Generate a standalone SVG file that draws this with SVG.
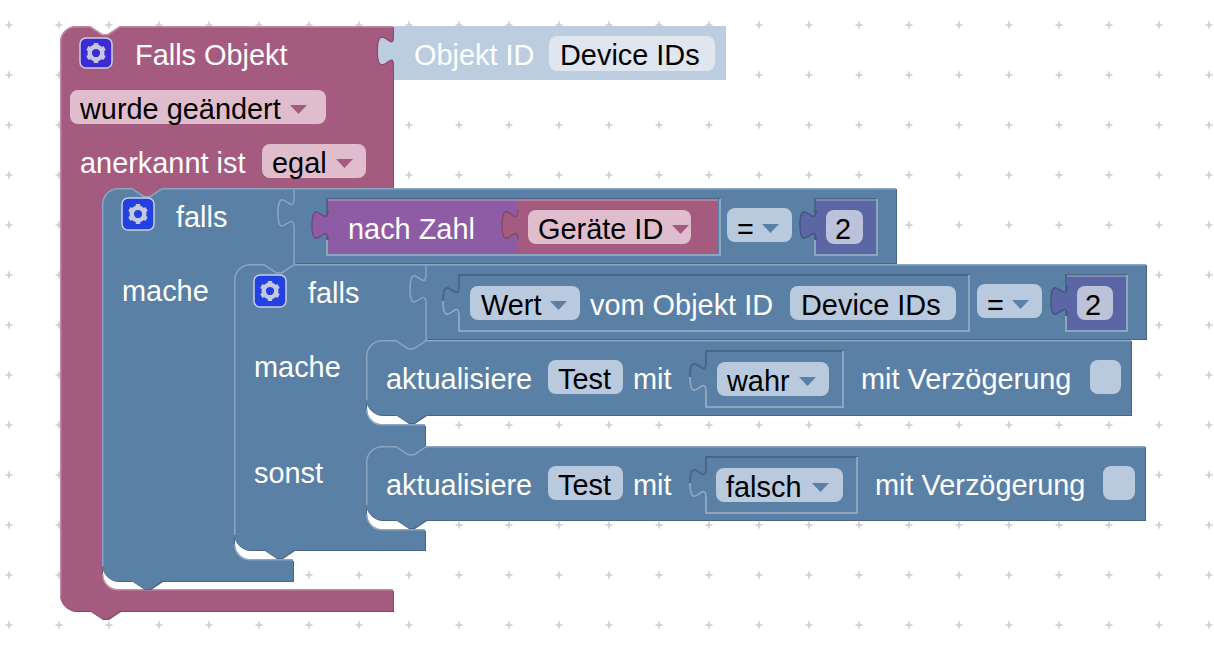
<svg xmlns="http://www.w3.org/2000/svg" width="1214" height="668" viewBox="0 0 1214 668">
<style>
text{font-family:"Liberation Sans",Arial,sans-serif;font-size:28.9px;fill:#fff;transform:translateY(.5px)}
text.k{fill:#000}
.pur{--f:#a55b80;--d:#844966;--l:#c08ca6}
.blu{--f:#5b80a5;--d:#496684;--l:#8ca6c0}
.vio{--f:#5b67a5;--d:#495284;--l:#8c95c0}
.mag{--f:#8e5ba5;--d:#724984;--l:#b08cc0}
.sha{--f:#bccde0;--d:#a5b8cd;--l:#d2dfec}
.d{fill:var(--d)}
.f{fill:var(--f)}
.l{fill:none;stroke:var(--l);stroke-width:1.5}
.t{fill:none;stroke:var(--d);stroke-width:1.5}
.hd{fill:none;stroke:var(--d);stroke-width:2}
.hl{fill:none;stroke:var(--l);stroke-width:2}
.fb{fill:#b9cade}
.fp{fill:#dfbdcd}
.fv{fill:#bdc2db}
.fs{fill:#dfe6ef}
.ab{fill:#5b80a5}
.ap{fill:#a55b80}
.ic{stroke:#c9cfe4;stroke-width:1.5}
</style>
<defs>
<pattern id="grid" x="0" y="0" width="50" height="50" patternUnits="userSpaceOnUse">
<path d="M5.5,25H12.5M9,21.500V28.500" stroke="#ccc" stroke-width="1.6" fill="none"/>
</pattern>
<g id="gear" fill="none" stroke="#c3c9e0">
<circle r="6.300" stroke-width="4.400"/>
<path d="M0,-10V10M-8.660,-5L8.660,5M-8.660,5L8.660,-5" stroke-width="4.400" stroke-dasharray="3.500 13"/>
</g>
<path id="p1" d="M60,42a16,16 0 0 1 16,-16H90l12,8 6,0 12,-8H393V188H162l-12,8 -6,0 -12,-8H118a16,16 0 0 0 -16,16V574a16,16 0 0 0 16,16H393V611H120l-12,8 -6,0 -12,-8H76a16,16 0 0 1 -16,-16z"/>
<path id="p2" d="M394,26H726V80H394V66c0,-20 -16,16 -16,-15s16,5 16,-15z"/>
<path id="p3" d="M102,204a16,16 0 0 1 16,-16H132l12,8 6,0 12,-8H293V264H294l-12,8 -6,0 -12,-8H250a16,16 0 0 0 -16,16V544a16,16 0 0 0 16,16H293V581H162l-12,8 -6,0 -12,-8H118a16,16 0 0 1 -16,-16z"/>
<path id="p4" d="M294,188H896V263H294V228c0,-20 -16,16 -16,-15s16,5 16,-15z"/>
<path id="p5" d="M328,200H518V254H328V240c0,-20 -16,16 -16,-15s16,5 16,-15z"/>
<path id="p6" d="M518,200H718V254H518V240c0,-20 -16,16 -16,-15s16,5 16,-15z"/>
<path id="p7" d="M816,200H876V254H816V240c0,-20 -16,16 -16,-15s16,5 16,-15z"/>
<path id="p8" d="M234,280a16,16 0 0 1 16,-16H264l12,8 6,0 12,-8H425V340H426l-12,8 -6,0 -12,-8H382a16,16 0 0 0 -16,16V409a16,16 0 0 0 16,16H425V446H426l-12,8 -6,0 -12,-8H382a16,16 0 0 0 -16,16V514a16,16 0 0 0 16,16H425V550H294l-12,8 -6,0 -12,-8H250a16,16 0 0 1 -16,-16z"/>
<path id="p9" d="M426,264H1146V339H426V304c0,-20 -16,16 -16,-15s16,5 16,-15z"/>
<path id="p10" d="M1067,276H1126V330H1067V316c0,-20 -16,16 -16,-15s16,5 16,-15z"/>
<path id="p11" d="M366,356a16,16 0 0 1 16,-16H396l12,8 6,0 12,-8H1131V415H426l-12,8 -6,0 -12,-8H382a16,16 0 0 1 -16,-16z"/>
<path id="p12" d="M366,462a16,16 0 0 1 16,-16H396l12,8 6,0 12,-8H1145V520H426l-12,8 -6,0 -12,-8H382a16,16 0 0 1 -16,-16z"/>
</defs>
<rect width="1214" height="668" fill="#fff"/>
<rect width="1214" height="668" fill="url(#grid)"/>

<g id="on-change" class="pur">
<use href="#p1" class="d" x="1" y="1"/><use href="#p1" class="f"/>
<path class="l" d="M60.700,596V42a15.300,15.300 0 0 1 15.300,-15.300H90l12,8 6,0 12,-8H393M102.700,574a15.300,15.300 0 0 0 15.300,15.800H393"/>
<rect x="80" y="38" width="32" height="30" rx="6" fill="#3f2bd4" class="ic"/><use href="#gear" x="96" y="53"/>
<text x="135" y="64">Falls Objekt</text>
<rect x="70" y="90" width="256" height="34" rx="8" class="fp"/>
<text x="80" y="118" class="k">wurde geändert</text><path class="ap" d="M290,105h17l-8.500,9z"/>
<text x="80" y="172">anerkannt ist</text>
<rect x="262" y="144" width="104" height="34" rx="8" class="fp"/>
<text x="272" y="172" class="k">egal</text><path class="ap" d="M336,159h17l-8.500,9z"/>
</g>

<g id="object-id" class="sha">
<path d="M394,36c0,20 -16,-16 -16,15s16,-5 16,15" fill="none" stroke="#844966" stroke-width="2.500"/>
<use href="#p2" class="f"/>
<text x="414" y="64">Objekt ID</text>
<rect x="549" y="36" width="166" height="35" rx="8" class="fs"/>
<text x="560" y="64" class="k">Device IDs</text>
</g>

<g id="if-outer" class="blu">
<use href="#p3" class="d" x="1" y="1"/><use href="#p3" class="f"/>
<path class="l" d="M102.700,566V204a15.300,15.300 0 0 1 15.300,-15.300H132l12,8 6,0 12,-8H293M234.700,544a15.300,15.300 0 0 0 15.300,15.800H293"/>
<rect x="122" y="198" width="32" height="32" rx="6" fill="#2340e0" class="ic"/><use href="#gear" x="138" y="214"/>
<text x="176" y="226">falls</text>
<text x="122" y="300">mache</text>
</g>

<g id="compare-outer" class="blu">
<use href="#p4" class="d" x="1" y="1"/><use href="#p4" class="f"/>
<path class="l" d="M294,264V228c0,-20 -16,16 -16,-15s16,5 16,-15V188.700H896"/>
<path class="hd" d="M327,240V199H720"/>
<path class="hl" d="M720,199V255H327V240"/>
<path class="hd" d="M815,240V199H877"/>
<path class="hl" d="M877,199V255H815V240"/>
<rect x="727" y="208" width="65" height="34" rx="8" class="fb"/>
<text x="737" y="238" class="k">=</text><path class="ab" d="M762,224h17l-8.500,9z"/>
</g>

<g id="to-number" class="mag">
<use href="#p5" class="f"/>
<path class="l" d="M328,200H518"/>
<path class="t" d="M328,240c0,-20 -16,16 -16,-15s16,5 16,-15"/>
<text x="348" y="238">nach Zahl</text>
</g>

<g id="device-id" class="pur">
<use href="#p6" class="f"/>
<path class="l" d="M518,200H718"/>
<path class="t" d="M518,240c0,-20 -16,16 -16,-15s16,5 16,-15"/>
<rect x="528" y="210" width="163" height="34" rx="8" class="fp"/>
<text x="538" y="238" class="k">Geräte ID</text><path class="ap" d="M672,225h17l-8.500,9z"/>
</g>

<g id="number-outer" class="vio">
<use href="#p7" class="f"/>
<path class="l" d="M816,200H876"/>
<path class="t" d="M816,240c0,-20 -16,16 -16,-15s16,5 16,-15"/>
<rect x="826" y="210" width="37" height="34" rx="8" class="fv"/>
<text x="835" y="238" class="k">2</text>
</g>

<g id="if-inner" class="blu">
<use href="#p8" class="d" x="1" y="1"/><use href="#p8" class="f"/>
<path class="l" d="M234.700,535V280a15.300,15.300 0 0 1 15.300,-15.300H264l12,8 6,0 12,-8H425M366.700,409a15.300,15.300 0 0 0 15.300,15.800H425M366.700,514a15.300,15.300 0 0 0 15.300,15.800H425"/>
<rect x="254" y="275" width="32" height="32" rx="6" fill="#2340e0" class="ic"/><use href="#gear" x="270" y="291"/>
<text x="308" y="302">falls</text>
<text x="254" y="376">mache</text>
<text x="254" y="482">sonst</text>
</g>

<g id="compare-inner" class="blu">
<use href="#p9" class="d" x="1" y="1"/><use href="#p9" class="f"/>
<path class="l" d="M426,340V304c0,-20 -16,16 -16,-15s16,5 16,-15V264.700H1146"/>
<path class="hd" d="M459,316c0,-20 -16,16 -16,-15s16,5 16,-15V275H969V331H459z"/>
<path class="hl" d="M969,275V331H459V316c0,-20 -16,16 -16,-15"/>
<path class="hd" d="M1066,316V275H1127"/>
<path class="hl" d="M1127,275V331H1066V316"/>
<rect x="470" y="286" width="110" height="34" rx="8" class="fb"/>
<text x="481" y="314" class="k">Wert</text><path class="ab" d="M550,301h17l-8.500,9z"/>
<text x="590" y="314">vom Objekt ID</text>
<rect x="790" y="286" width="166" height="34" rx="8" class="fb"/>
<text x="801" y="314" class="k">Device IDs</text>
<rect x="977" y="284" width="65" height="34" rx="8" class="fb"/>
<text x="987" y="314" class="k">=</text><path class="ab" d="M1012,300h17l-8.500,9z"/>
</g>

<g id="number-inner" class="vio">
<use href="#p10" class="f"/>
<path class="l" d="M1067,276H1126"/>
<path class="t" d="M1067,316c0,-20 -16,16 -16,-15s16,5 16,-15"/>
<rect x="1077" y="286" width="36" height="34" rx="8" class="fv"/>
<text x="1085" y="314" class="k">2</text>
</g>

<g id="update-true" class="blu">
<use href="#p11" class="d" x="1" y="1"/><use href="#p11" class="f"/>
<path class="l" d="M366.700,400V356a15.300,15.300 0 0 1 15.300,-15.300H396l12,8 6,0 12,-8H1131"/>
<text x="386" y="388">aktualisiere</text>
<rect x="548" y="360" width="75" height="34" rx="8" class="fb"/>
<text x="558" y="388" class="k">Test</text>
<text x="633" y="388">mit</text>
<path class="hd" d="M706,392c0,-20 -16,16 -16,-15s16,5 16,-15V351H843V407H706z"/>
<path class="hl" d="M843,351V407H706V392c0,-20 -16,16 -16,-15"/>
<rect x="717" y="362" width="112" height="34" rx="8" class="fb"/>
<text x="727" y="390" class="k">wahr</text><path class="ab" d="M799,377h17l-8.500,9z"/>
<text x="861" y="388">mit Verzögerung</text>
<rect x="1090" y="360" width="31" height="34" rx="8" class="fb"/>
</g>

<g id="update-false" class="blu">
<use href="#p12" class="d" x="1" y="1"/><use href="#p12" class="f"/>
<path class="l" d="M366.700,505V462a15.300,15.300 0 0 1 15.300,-15.300H396l12,8 6,0 12,-8H1145"/>
<text x="386" y="494">aktualisiere</text>
<rect x="548" y="466" width="75" height="34" rx="8" class="fb"/>
<text x="558" y="494" class="k">Test</text>
<text x="633" y="494">mit</text>
<path class="hd" d="M706,498c0,-20 -16,16 -16,-15s16,5 16,-15V457H857V513H706z"/>
<path class="hl" d="M857,457V513H706V498c0,-20 -16,16 -16,-15"/>
<rect x="716" y="468" width="127" height="34" rx="8" class="fb"/>
<text x="726" y="496" class="k">falsch</text><path class="ab" d="M812,483h17l-8.500,9z"/>
<text x="875" y="494">mit Verzögerung</text>
<rect x="1103" y="466" width="32" height="34" rx="8" class="fb"/>
</g>
</svg>
